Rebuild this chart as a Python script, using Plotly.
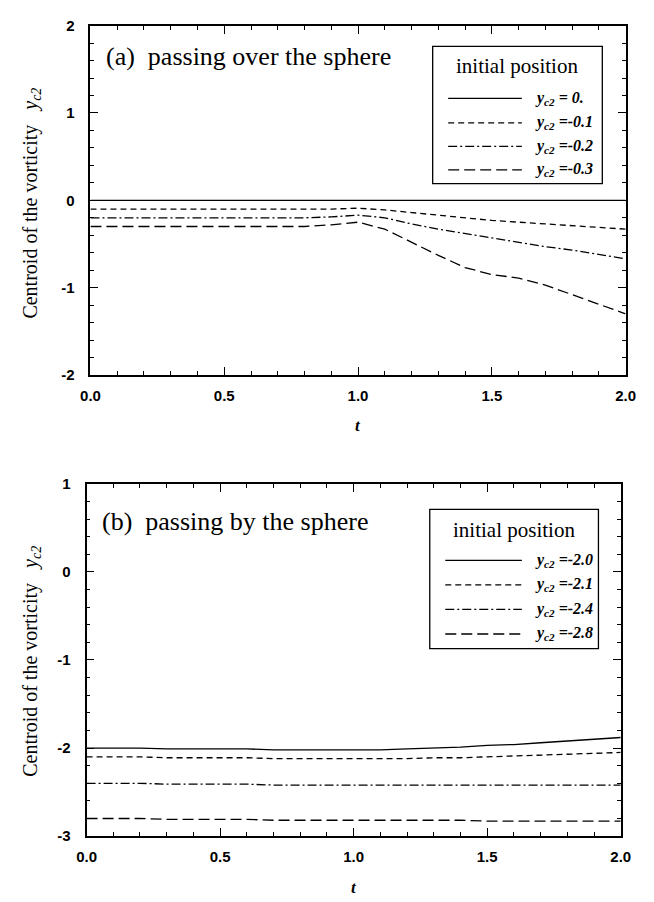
import plotly.graph_objects as go

# ---- data -------------------------------------------------------------
t = [0.0, 0.1, 0.2, 0.3, 0.4, 0.5, 0.6, 0.7, 0.8, 0.9, 1.0,
     1.1, 1.2, 1.3, 1.4, 1.5, 1.6, 1.7, 1.8, 1.9, 2.0]

# (a) passing over the sphere
over_labels = ["0.", "-0.1", "-0.2", "-0.3"]
over_y00 = [0.00, 0.00, 0.00, 0.00, 0.00, 0.00, 0.00, 0.00, 0.00, 0.00, 0.00,
            0.00, 0.00, 0.00, 0.00, 0.00, 0.00, 0.00, 0.00, 0.00, 0.00]
over_y01 = [-0.10, -0.10, -0.10, -0.10, -0.10, -0.10, -0.10, -0.10, -0.10, -0.10, -0.09,
            -0.11, -0.14, -0.17, -0.20, -0.23, -0.25, -0.27, -0.29, -0.31, -0.33]
over_y02 = [-0.20, -0.20, -0.20, -0.20, -0.20, -0.20, -0.20, -0.20, -0.20, -0.19, -0.17,
            -0.20, -0.27, -0.33, -0.38, -0.43, -0.48, -0.53, -0.57, -0.62, -0.67]
over_y03 = [-0.30, -0.30, -0.30, -0.30, -0.30, -0.30, -0.30, -0.30, -0.30, -0.28, -0.25,
            -0.33, -0.48, -0.63, -0.77, -0.85, -0.89, -0.97, -1.08, -1.19, -1.30]

# (b) passing by the sphere
by_labels = ["-2.0", "-2.1", "-2.4", "-2.8"]
by_y20 = [-2.00, -2.00, -2.00, -2.01, -2.01, -2.01, -2.01, -2.02, -2.02, -2.02, -2.02,
          -2.02, -2.01, -2.00, -1.99, -1.97, -1.96, -1.94, -1.92, -1.90, -1.88]
by_y21 = [-2.10, -2.10, -2.10, -2.11, -2.11, -2.11, -2.11, -2.12, -2.12, -2.12, -2.12,
          -2.12, -2.12, -2.11, -2.11, -2.10, -2.09, -2.08, -2.07, -2.06, -2.05]
by_y24 = [-2.40, -2.40, -2.40, -2.41, -2.41, -2.41, -2.41, -2.42, -2.42, -2.42, -2.42,
          -2.42, -2.42, -2.42, -2.42, -2.42, -2.42, -2.42, -2.42, -2.42, -2.42]
by_y28 = [-2.80, -2.80, -2.80, -2.81, -2.81, -2.81, -2.81, -2.82, -2.82, -2.82, -2.82,
          -2.82, -2.82, -2.82, -2.82, -2.83, -2.83, -2.83, -2.83, -2.83, -2.83]

x_ticks = [0.0, 0.5, 1.0, 1.5, 2.0]
x_ticktext = ["0.0", "0.5", "1.0", "1.5", "2.0"]
ya_ticks = [-2, -1, 0, 1, 2]
ya_ticktext = ["-2", "-1", "0", "1", "2"]
yb_ticks = [-3, -2, -1, 0, 1]
yb_ticktext = ["-3", "-2", "-1", "0", "1"]

# ---- styling ----------------------------------------------------------
W, H = 654, 902
dash_styles = ["solid", "6px,4px", "9px,3px,2px,3px", "11px,5px"]
SERIF = "Liberation Serif, Times New Roman, serif"
SANS = "Liberation Sans, Arial, sans-serif"
INK = "black"

# plot areas in pixels (left, right, top, bottom)
area_a = (83, 635, 17, 373)
area_b = (79, 630, 484, 843)


def px_x(px):
    return px / W


def px_y(py):
    return 1 - py / H


fig = go.Figure()

series_a = [over_y00, over_y01, over_y02, over_y03]
series_b = [by_y20, by_y21, by_y24, by_y28]

for ys, d, lab in zip(series_a, dash_styles, over_labels):
    fig.add_trace(go.Scatter(x=t, y=ys, mode="lines", name=lab, showlegend=False,
                             line=dict(color=INK, width=1.3, dash=d),
                             xaxis="x", yaxis="y"))
for ys, d, lab in zip(series_b, dash_styles, by_labels):
    fig.add_trace(go.Scatter(x=t, y=ys, mode="lines", name=lab, showlegend=False,
                             line=dict(color=INK, width=1.3, dash=d),
                             xaxis="x2", yaxis="y2"))


def axis_common():
    return dict(showline=True, linecolor=INK, linewidth=1.8, mirror="allticks",
                ticks="inside", ticklen=8, tickwidth=1.3, tickcolor=INK,
                showgrid=False, zeroline=False,
                tickfont=dict(family=SANS, size=15, color=INK, weight="bold"),
                minor=dict(ticks="inside", ticklen=4, tickwidth=1.1, tickcolor=INK,
                           showgrid=False))


xa = axis_common()
xa.update(domain=[px_x(area_a[0]), px_x(area_a[1])], range=[0, 2], anchor="y",
          tickmode="array", tickvals=x_ticks, ticktext=x_ticktext,
          ticklabelstandoff=6)
xa["minor"].update(dtick=0.1, tick0=0)
ya = axis_common()
ya.update(domain=[px_y(area_a[3]), px_y(area_a[2])], range=[-2, 2], anchor="x",
          tickmode="array", tickvals=ya_ticks, ticktext=ya_ticktext,
          ticklabelstandoff=11)
ya["minor"].update(dtick=0.2, tick0=0)

xb = axis_common()
xb.update(domain=[px_x(area_b[0]), px_x(area_b[1])], range=[0, 2], anchor="y2",
          tickmode="array", tickvals=x_ticks, ticktext=x_ticktext,
          ticklabelstandoff=6)
xb["minor"].update(dtick=0.1, tick0=0)
yb = axis_common()
yb.update(domain=[px_y(area_b[3]), px_y(area_b[2])], range=[-3, 1], anchor="x2",
          tickmode="array", tickvals=yb_ticks, ticktext=yb_ticktext,
          ticklabelstandoff=11)
yb["minor"].update(dtick=0.2, tick0=0)

annotations = []
shapes = []

YC2 = "<i>y</i><sub><i>c2</i></sub>"
NB = "\u00a0"


def add_text(text, x, y, size, family=SERIF, angle=0, xanchor="center"):
    annotations.append(dict(text=text, x=px_x(x), y=px_y(y), xref="paper",
                            yref="paper", showarrow=False, textangle=angle,
                            xanchor=xanchor, yanchor="middle",
                            font=dict(family=family, size=size, color=INK)))


def add_panel_text(area, heading, heading_y, ytitle_center):
    left, right, top, bottom = area
    add_text(heading, left + 14, heading_y, 26, xanchor="left")
    add_text("Centroid of the vorticity" + NB * 3 + YC2, 22, ytitle_center,
             20, angle=-90)
    add_text("<b><i>t</i></b>", (left + right) / 2, bottom + 52, 17)


def add_legend(box, title_y, rows_y, sample_x, label_x, labels):
    x0, x1, y0, y1 = box
    shapes.append(dict(type="rect", xref="paper", yref="paper",
                       x0=px_x(x0), x1=px_x(x1), y0=px_y(y1), y1=px_y(y0),
                       line=dict(color=INK, width=1.3), fillcolor="white"))
    add_text("initial position", (x0 + x1) / 2, title_y, 21)
    for ry, d, lab in zip(rows_y, dash_styles, labels):
        shapes.append(dict(type="line", xref="paper", yref="paper",
                           x0=px_x(sample_x[0]), x1=px_x(sample_x[1]),
                           y0=px_y(ry), y1=px_y(ry),
                           line=dict(color=INK, width=1.3, dash=d)))
        sep = " = " if lab == "0." else " ="
        add_text("<b>" + YC2 + "<i>" + sep + lab + "</i></b>", label_x, ry, 16,
                 xanchor="left")


add_panel_text(area_a, "(a)" + NB * 2 + "passing over the sphere", 48, 198)
add_panel_text(area_b, "(b)" + NB * 2 + "passing by the sphere", 522, 665)

add_legend((436, 611, 38, 178), 58, [91, 116, 140, 164], (452, 528), 539,
           over_labels)
add_legend((433, 607, 510, 652), 531, [562, 587, 612, 637], (449, 528), 539,
           by_labels)

fig.update_layout(
    width=W, height=H,
    margin=dict(l=0, r=0, t=0, b=0),
    paper_bgcolor="white", plot_bgcolor="white",
    xaxis=xa, yaxis=ya, xaxis2=xb, yaxis2=yb,
    annotations=annotations, shapes=shapes,
    showlegend=False,
)

fig.write_html("out.html")
